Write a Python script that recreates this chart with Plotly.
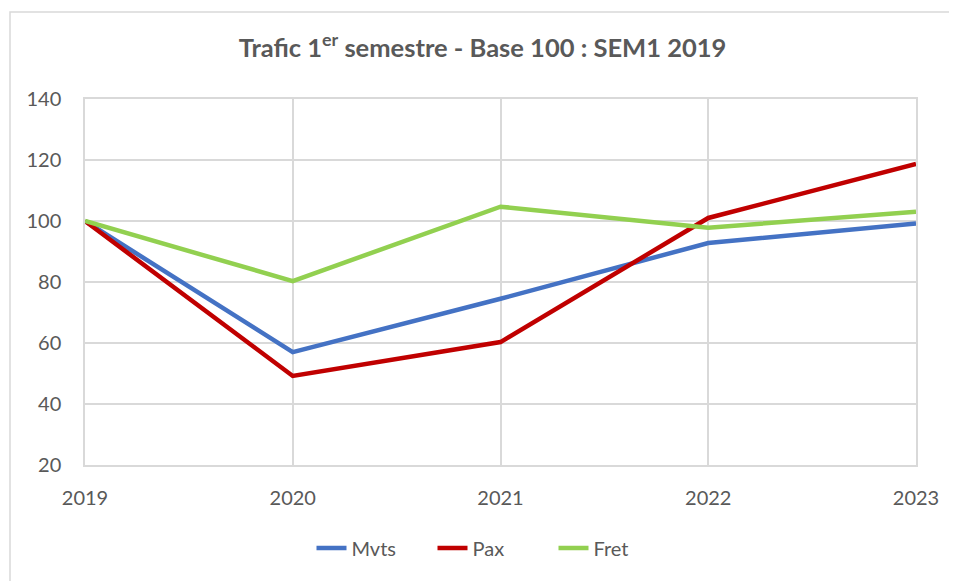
import plotly.graph_objects as go

years = ["2019", "2020", "2021", "2022", "2023"]
mvts = [100, 57, 74.5, 92.8, 99.2]
pax = [100, 49.2, 60.3, 101, 118.7]
fret = [100, 80.3, 104.7, 97.8, 103]
y_ticks = [20, 40, 60, 80, 100, 120, 140]

FONT = "Lato, Carlito, Liberation Sans Narrow, sans-serif"
TXT = "#595959"

fig = go.Figure()
for name, vals, col in [("Mvts", mvts, "#4472C4"), ("Pax", pax, "#C00000"), ("Fret", fret, "#92D050")]:
    fig.add_trace(go.Scatter(x=list(range(len(years))), y=vals, name=name, mode="lines",
                             line=dict(color=col, width=4.5)))

OFF = 8  # page body margin
L, R, T, B = 85 - OFF, 916 - OFF, 99 - OFF, 465 - OFF
W, H = 957 - OFF, 581 - OFF
pw, ph = R - L, B - T

def px(x):
    return (x - OFF - L) / pw

def py(y):
    return (B - (y - OFF)) / ph

fig.update_layout(
    width=W, height=H,
    margin=dict(l=L, r=W - R, t=T, b=H - B, pad=0),
    paper_bgcolor="white", plot_bgcolor="white",
    font=dict(family=FONT, size=20, color=TXT),
    title=dict(text="<b>Trafic 1<sup>er</sup> semestre - Base 100 : SEM1 2019</b>",
               x=0.5, xanchor="center", y=1 - (48 - OFF) / H, yanchor="middle",
               font=dict(family=FONT, size=25.5, color=TXT)),
    xaxis=dict(range=[0, 4], tickvals=list(range(len(years))), ticktext=years,
               showgrid=True, gridcolor="#D9D9D9", gridwidth=1.5,
               showline=True, linecolor="#D9D9D9", linewidth=1.5, mirror=True,
               zeroline=False, ticks="", ticklabelstandoff=14),
    yaxis=dict(range=[20, 140], tickvals=y_ticks, showgrid=True, gridcolor="#D9D9D9",
               gridwidth=1.5, zeroline=False, showline=True, linecolor="#D9D9D9",
               linewidth=1.5, mirror=True, ticks="", ticklabelstandoff=18),
    legend=dict(orientation="h", x=px(493), xanchor="center", y=py(548), yanchor="middle",
                font=dict(family=FONT, size=20, color=TXT),
                entrywidth=76, itemwidth=30,
                bgcolor="rgba(0,0,0,0)"),
    shapes=[dict(type="rect", xref="paper", yref="paper",
                 x0=px(10), x1=px(962), y0=py(600), y1=py(12),
                 line=dict(color="#D9D9D9", width=1.5), layer="below")],
)

fig.write_html("out.html")
